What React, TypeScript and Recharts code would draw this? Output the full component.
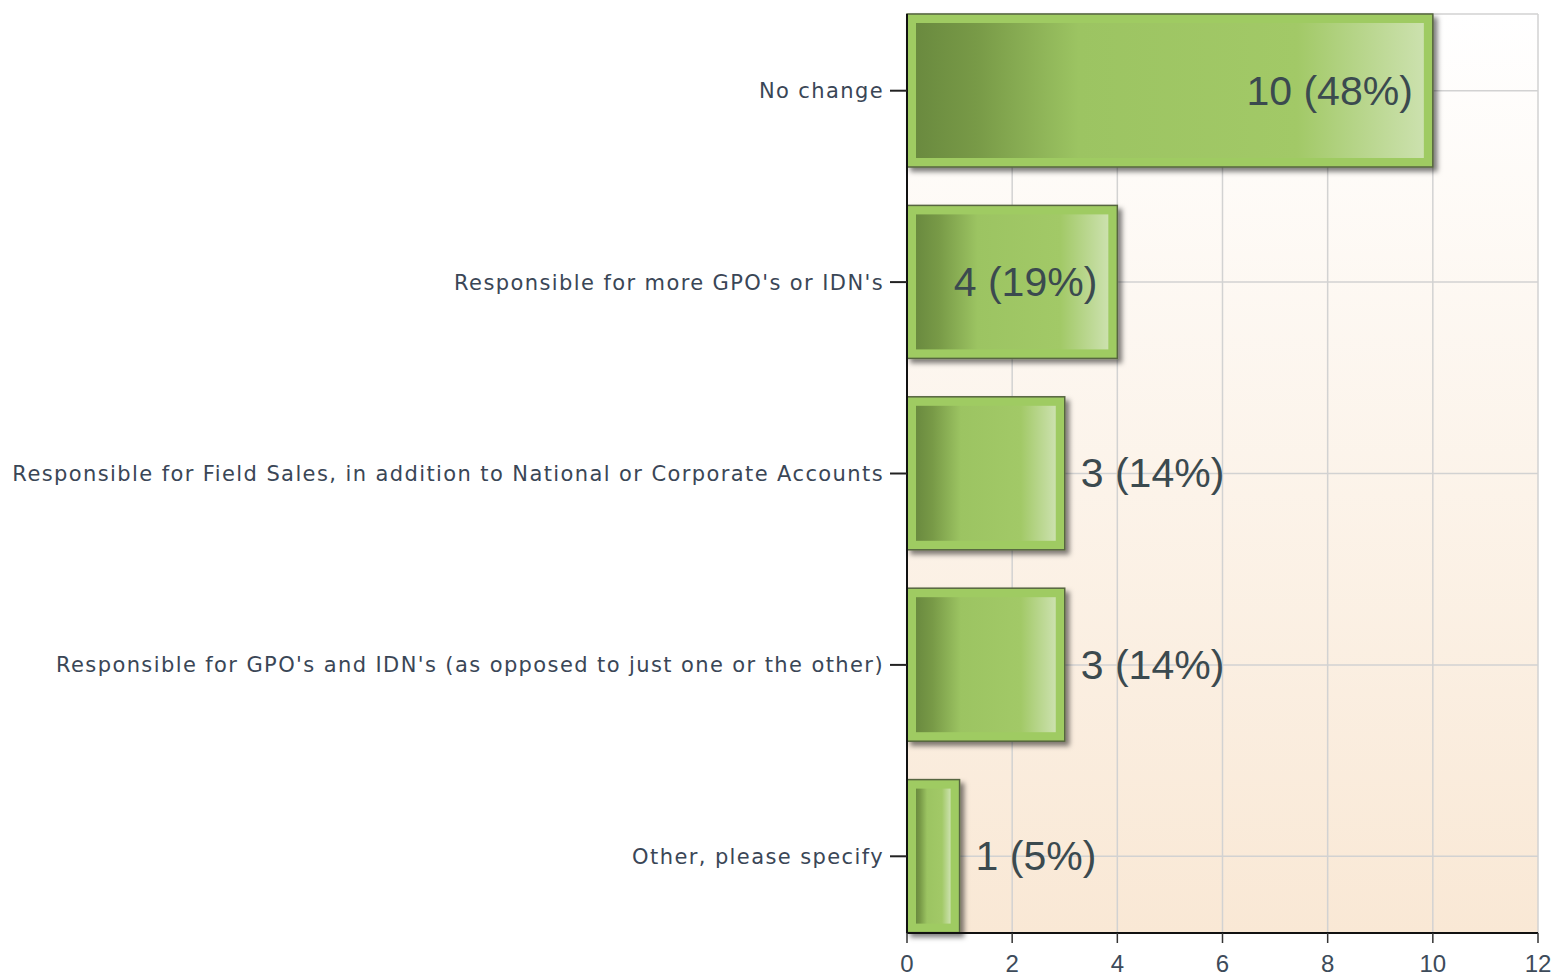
import { Bar, BarChart, CartesianGrid, LabelList, XAxis, YAxis } from 'recharts'

const categories = [
  'No change',
  "Responsible for more GPO's or IDN's",
  'Responsible for Field Sales, in addition to National or Corporate Accounts',
  "Responsible for GPO's and IDN's (as opposed to just one or the other)",
  'Other, please specify',
]
const counts = [10, 4, 3, 3, 1]
const percents = [48, 19, 14, 14, 5]
const xTicks = [0, 2, 4, 6, 8, 10, 12]

const data = categories.map((name, i) => ({
  name,
  count: counts[i],
  pct: percents[i],
}))

function GreenBar(props: any) {
  const { x, y, width, height } = props
  if (!width || width <= 0) return null
  const inset = 9
  return (
    <g>
      <rect
        x={x}
        y={y}
        width={width}
        height={height}
        fill="#9fcb62"
        stroke="#56653f"
        strokeWidth={1.5}
        filter="url(#barShadow)"
      />
      <rect
        x={x + inset}
        y={y + inset}
        width={Math.max(width - inset * 2, 0)}
        height={height - inset * 2}
        fill="url(#barFill)"
      />
    </g>
  )
}

function ValueLabel(props: any) {
  const { x, y, width, height, index } = props
  const inside = width > 190
  const text = `${counts[index]} (${percents[index]}%)`
  return (
    <text
      x={inside ? x + width - 20 : x + width + 16}
      y={y + height / 2}
      textAnchor={inside ? 'end' : 'start'}
      dominantBaseline="central"
      fontFamily="'Liberation Sans', Arial, sans-serif"
      fontSize={41}
      fill="#3b4a4f"
    >
      {text}
    </text>
  )
}

export default function App() {
  return (
    <div style={{ width: 1555, height: 978, background: '#fff' }}>
      <style>{'body{margin:0}'}</style>
      <BarChart
        width={1555}
        height={978}
        data={data}
        layout="vertical"
        margin={{ top: 14, right: 17, bottom: 15, left: 0 }}
      >
        <defs>
          <linearGradient id="plotBg" x1="0" y1="0" x2="0" y2="1">
            <stop offset="0%" stopColor="#ffffff" />
            <stop offset="100%" stopColor="#f9e8d5" />
          </linearGradient>
          <linearGradient id="barFill" x1="0" y1="0" x2="1" y2="0">
            <stop offset="0%" stopColor="#6a8a3f" />
            <stop offset="12%" stopColor="#789a47" />
            <stop offset="32%" stopColor="#9cc462" />
            <stop offset="75%" stopColor="#a2c967" />
            <stop offset="100%" stopColor="#cce1ae" />
          </linearGradient>
          <filter id="barShadow" x="-10%" y="-10%" width="130%" height="130%">
            <feDropShadow dx={4} dy={4} stdDeviation={2.5} floodColor="#000" floodOpacity={0.5} />
          </filter>
        </defs>
        <CartesianGrid fill="url(#plotBg)" stroke="#d2d2d2" strokeWidth={1.5} />
        <XAxis
          type="number"
          domain={[0, 12]}
          ticks={xTicks}
          interval={0}
          height={30}
          axisLine={{ stroke: '#111', strokeWidth: 2 }}
          tickLine={{ stroke: '#333', strokeWidth: 1.5 }}
          tickSize={10}
          tickMargin={12}
          tick={{ fontSize: 24, fill: '#3d4b5a', fontFamily: "'Liberation Sans', Arial, sans-serif" }}
        />
        <YAxis
          type="category"
          dataKey="name"
          width={907}
          padding={{ top: -19, bottom: -19 }}
          axisLine={{ stroke: '#111', strokeWidth: 2 }}
          tickLine={{ stroke: '#222', strokeWidth: 2 }}
          tickSize={17}
          tickMargin={6}
          interval={0}
          tick={{ fontSize: 21, fill: '#3a4656', fontFamily: "'DejaVu Sans', Verdana, sans-serif", letterSpacing: 1.4 }}
        />
        <Bar dataKey="count" barSize={153} shape={GreenBar} isAnimationActive={false}>
          <LabelList dataKey="count" content={ValueLabel} />
        </Bar>
      </BarChart>
    </div>
  )
}
